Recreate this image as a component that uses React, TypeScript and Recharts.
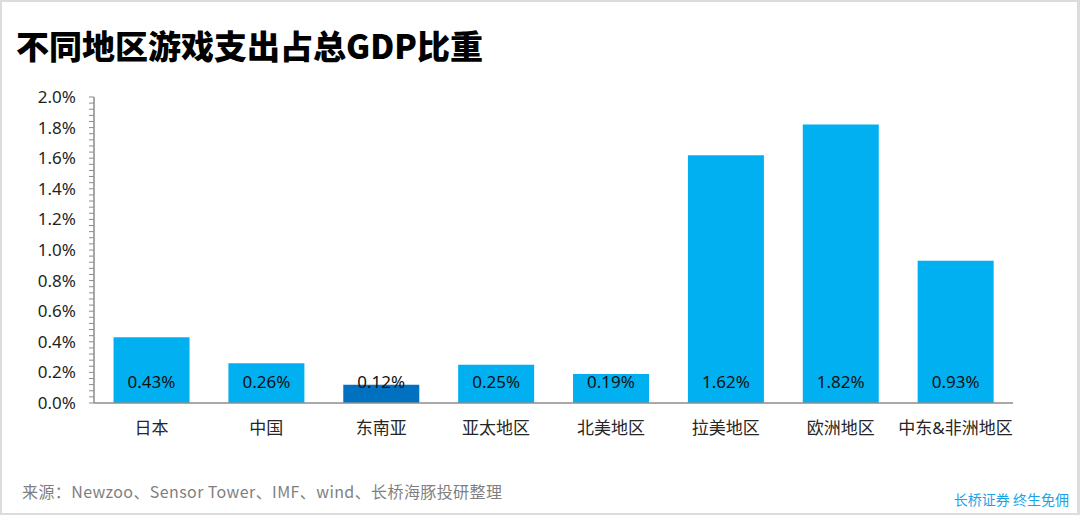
import React from "react";
import { BarChart, Bar, XAxis, YAxis, Cell, LabelList } from "recharts";

const regions = ["日本", "中国", "东南亚", "亚太地区", "北美地区", "拉美地区", "欧洲地区", "中东&非洲地区"];
const shares = [0.43, 0.26, 0.12, 0.25, 0.19, 1.62, 1.82, 0.93];
const highlightRegion = "东南亚";
const majorTicks = [0, 0.2, 0.4, 0.6, 0.8, 1.0, 1.2, 1.4, 1.6, 1.8, 2.0];
const minorStep = 0.04;

const title = "不同地区游戏支出占总GDP比重";
const source = "来源：Newzoo、Sensor Tower、IMF、wind、长桥海豚投研整理";
const brand = "长桥证券 终生免佣";

const data = regions.map((r, i) => ({ region: r, value: shares[i] }));
const allTicks: number[] = [];
for (let i = 0; i <= Math.round(2 / minorStep); i++) allTicks.push(Math.round(i * minorStep * 100) / 100);

const FONT = "'Noto Sans', 'Noto Sans CJK SC', sans-serif";

const YTick = (props: any) => {
  const { x, y, payload } = props;
  const v = payload.value;
  const isMajor = majorTicks.some((m) => Math.abs(m - v) < 1e-6);
  if (!isMajor) return null;
  return (
    <text x={x} y={y} dy={6} textAnchor="end" fontSize={17} fill="#1f1f1f" fontFamily={FONT}>
      {v.toFixed(1)}%
    </text>
  );
};

const XTick = (props: any) => {
  const { x, y, payload } = props;
  return (
    <text x={x} y={y} dy={23} textAnchor="middle" fontSize={17} fill="#262626" fontFamily={FONT}>
      {payload.value}
    </text>
  );
};

const BarLabel = (props: any) => {
  const { x, y, width, height, value } = props;
  return (
    <text x={x + width / 2} y={y + height - 21} dy={6} textAnchor="middle" fontSize={17} fill="#111" fontFamily={FONT}>
      {Number(value).toFixed(2)}%
    </text>
  );
};

export default function App() {
  return (
    <div
      style={{
        position: "absolute",
        left: 0,
        top: 0,
        width: 1080,
        height: 515,
        boxSizing: "border-box",
        border: "2px solid #dcdcdc",
        borderRight: "3px solid #dcdcdc",
        background: "#fff",
        overflow: "hidden",
      }}
    >
      <div
        style={{
          position: "absolute",
          left: 14,
          top: 22,
          fontSize: 33,
          fontWeight: 900,
          color: "#000",
          fontFamily: "'Noto Sans CJK SC', sans-serif",
          whiteSpace: "nowrap",
          lineHeight: "42px",
        }}
      >
        {title}
      </div>
      <div style={{ position: "absolute", left: -2, top: -2 }}>
        <BarChart
          width={1080}
          height={515}
          data={data}
          margin={{ top: 97, right: 67, bottom: 82, left: 14 }}
          barCategoryGap="17%"
        >
          <XAxis
            dataKey="region"
            axisLine={{ stroke: "#8c8c8c", strokeWidth: 1.5 }}
            tickLine={false}
            tick={<XTick />}
            height={30}
            interval={0}
          />
          <YAxis
            type="number"
            domain={[0, 2]}
            ticks={allTicks}
            interval={0}
            width={80}
            axisLine={{ stroke: "#8c8c8c", strokeWidth: 1.5 }}
            tickLine={{ stroke: "#8c8c8c" }}
            tickSize={5}
            tickMargin={13}
            tick={<YTick />}
            allowDataOverflow
          />
          <Bar dataKey="value" isAnimationActive={false}>
            {data.map((d) => (
              <Cell key={d.region} fill={d.region === highlightRegion ? "#0070C0" : "#00B0F0"} />
            ))}
            <LabelList dataKey="value" content={<BarLabel />} />
          </Bar>
        </BarChart>
      </div>
      <div
        style={{
          position: "absolute",
          left: 20,
          top: 478,
          fontSize: 16,
          letterSpacing: 0.4,
          color: "#7f7f7f",
          fontFamily: "'Noto Sans CJK SC', sans-serif",
          whiteSpace: "nowrap",
          lineHeight: "22px",
        }}
      >
        {source}
      </div>
      <div
        style={{
          position: "absolute",
          right: 8,
          top: 487,
          fontSize: 14,
          color: "#1aa3e8",
          fontFamily: "'Noto Sans CJK SC', sans-serif",
          whiteSpace: "nowrap",
          lineHeight: "20px",
        }}
      >
        {brand}
      </div>
    </div>
  );
}
